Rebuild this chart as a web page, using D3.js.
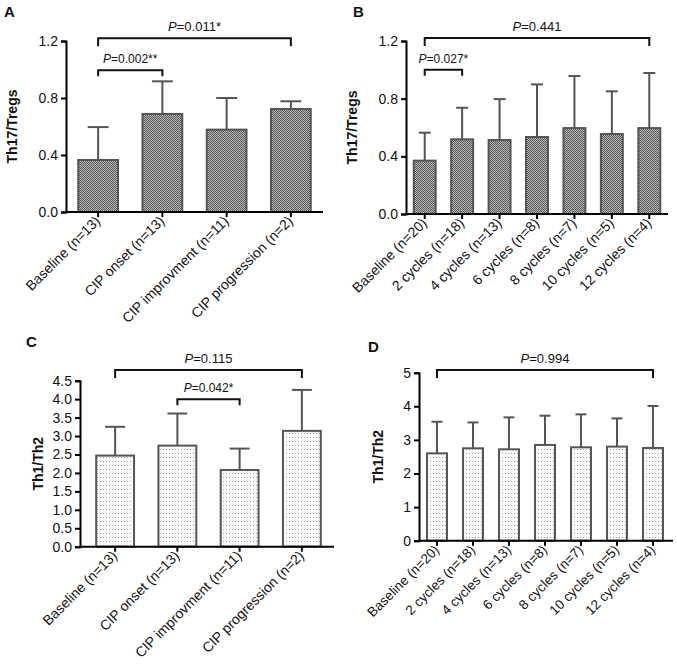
<!DOCTYPE html>
<html>
<head>
<meta charset="utf-8">
<script src="https://cdn.jsdelivr.net/npm/d3@7"></script>
<style>
  html, body { margin: 0; padding: 0; background: #fff; }
  svg { display: block; font-family: "Liberation Sans", Arial, sans-serif; }
</style>
</head>
<body>
<svg id="chart" width="677" height="667"></svg>
<script>
// ---------- DATA ----------
const categoriesA = ["Baseline (n=13)", "CIP onset (n=13)", "CIP improvment (n=11)", "CIP progression (n=2)"];
const meanA = [0.365, 0.688, 0.578, 0.723];
const sdA = [0.231, 0.229, 0.222, 0.054];
const ticksA = [0, 0.4, 0.8, 1.2];
const bracketsA = [
  { from: 0, to: 3, label: "0.011*", level: 1.22, big: true },
  { from: 0, to: 1, label: "0.002**", level: 0.995, big: false }
];

const categoriesB = ["Baseline (n=20)", "2 cycles (n=18)", "4 cycles (n=13)", "6 cycles (n=8)", "8 cycles (n=7)", "10 cycles (n=5)", "12 cycles (n=4)"];
const meanB = [0.37, 0.518, 0.513, 0.534, 0.596, 0.555, 0.596];
const sdB = [0.194, 0.219, 0.284, 0.365, 0.361, 0.296, 0.382];
const ticksB = [0, 0.4, 0.8, 1.2];
const bracketsB = [
  { from: 0, to: 6, label: "0.441", level: 1.22, big: true },
  { from: 0, to: 1, label: "0.027*", level: 1.0, big: false }
];

const categoriesC = ["Baseline (n=13)", "CIP onset (n=13)", "CIP improvment (n=11)", "CIP progression (n=2)"];
const meanC = [2.47, 2.74, 2.08, 3.14];
const sdC = [0.78, 0.87, 0.58, 1.11];
const ticksC = [0, 0.5, 1.0, 1.5, 2.0, 2.5, 3.0, 3.5, 4.0, 4.5];
const bracketsC = [
  { from: 0, to: 3, label: "0.115", level: 4.79, big: true },
  { from: 1, to: 2, label: "0.042*", level: 4.0, big: false }
];

const categoriesD = ["Baseline (n=20)", "2 cycles (n=18)", "4 cycles (n=13)", "6 cycles (n=8)", "8 cycles (n=7)", "10 cycles (n=5)", "12 cycles (n=4)"];
const meanD = [2.60, 2.75, 2.72, 2.85, 2.78, 2.80, 2.76];
const sdD = [0.94, 0.77, 0.95, 0.87, 0.98, 0.84, 1.25];
const ticksD = [0, 1, 2, 3, 4, 5];
const bracketsD = [
  { from: 0, to: 6, label: "0.994", level: 5.08, big: true }
];

// ---------- DRAW ----------
const svg = d3.select("#chart");
const defs = svg.append("defs");

// dense checker (panels A, B)
const pChk = defs.append("pattern").attr("id", "checker")
  .attr("patternUnits", "userSpaceOnUse").attr("width", 2).attr("height", 2);
pChk.append("rect").attr("width", 2).attr("height", 2).attr("fill", "#b8b8b8");
pChk.append("rect").attr("width", 1).attr("height", 1).attr("fill", "#585858");
pChk.append("rect").attr("x", 1).attr("y", 1).attr("width", 1).attr("height", 1).attr("fill", "#585858");

// light dots (panels C, D)
const pDot = defs.append("pattern").attr("id", "dots")
  .attr("patternUnits", "userSpaceOnUse").attr("width", 3).attr("height", 4);
pDot.append("rect").attr("width", 3).attr("height", 4).attr("fill", "#fbfbfb");
pDot.append("rect").attr("x", 1).attr("y", 1).attr("width", 1).attr("height", 1).attr("fill", "#a8a8a8");

function drawPanel(cfg) {
  const g = svg.append("g");
  const x = d3.scaleBand().domain(cfg.cats).range([cfg.bandL, cfg.bandR])
    .paddingInner(cfg.pad).paddingOuter(cfg.pad / 2);
  const y = d3.scaleLinear().domain([0, cfg.ymax]).range([cfg.y0, cfg.y1]);
  const data = cfg.cats.map((c, i) => ({ c, m: cfg.mean[i], s: cfg.sd[i] }));

  // error bars (upper only)
  const eb = g.append("g").attr("stroke", "#555").attr("stroke-width", 2);
  data.forEach(d => {
    const cx = x(d.c) + x.bandwidth() / 2;
    eb.append("line").attr("x1", cx).attr("x2", cx).attr("y1", y(d.m)).attr("y2", y(d.m + d.s));
    eb.append("line").attr("x1", cx - x.bandwidth() / 4).attr("x2", cx + x.bandwidth() / 4)
      .attr("y1", y(d.m + d.s)).attr("y2", y(d.m + d.s));
  });

  // bars
  g.append("g").selectAll("rect").data(data).join("rect")
    .attr("x", d => x(d.c) + 1)
    .attr("width", x.bandwidth() - 2)
    .attr("y", d => y(d.m))
    .attr("height", d => y(0) - y(d.m))
    .attr("fill", cfg.fill)
    .attr("stroke", "#555")
    .attr("stroke-width", 2);

  // y axis
  const ya = g.append("g").attr("transform", `translate(${cfg.axisX},0)`)
    .call(d3.axisLeft(y).tickValues(cfg.ticks).tickFormat(cfg.fmt).tickSizeOuter(0).tickSize(5).tickPadding(3));
  ya.select(".domain").attr("stroke", "#000").attr("stroke-width", 2);
  ya.selectAll(".tick line").attr("stroke", "#000").attr("stroke-width", 2);
  ya.selectAll(".tick text").attr("font-size", 14).attr("fill", "#111")
    .attr("font-family", "Liberation Sans, Arial, sans-serif");

  // x axis line
  g.append("line").attr("x1", cfg.axisX - 1).attr("x2", cfg.axisR)
    .attr("y1", y(0)).attr("y2", y(0)).attr("stroke", "#000").attr("stroke-width", 2);
  // x ticks and labels
  data.forEach(d => {
    const cx = x(d.c) + x.bandwidth() / 2;
    g.append("line").attr("x1", cx).attr("x2", cx).attr("y1", y(0)).attr("y2", y(0) + 5)
      .attr("stroke", "#000").attr("stroke-width", 2);
    g.append("text").attr("transform", `translate(${cx + 3},${y(0) + 10}) rotate(-45)`)
      .attr("text-anchor", "end").attr("font-size", cfg.xfs).attr("fill", "#111")
      .text(d.c);
  });

  // y title
  g.append("text").attr("transform", `translate(${cfg.titleX},${(cfg.y0 + cfg.y1) / 2}) rotate(-90)`)
    .attr("text-anchor", "middle").attr("font-size", 14).attr("font-weight", "bold")
    .attr("fill", "#111").text(cfg.title);

  // panel letter
  g.append("text").attr("x", cfg.letterX).attr("y", cfg.letterY)
    .attr("font-size", 15).attr("font-weight", "bold").attr("fill", "#111").text(cfg.letter);

  // significance brackets
  cfg.brackets.forEach(b => {
    const xa = x(cfg.cats[b.from]) + x.bandwidth() / 2;
    const xb = x(cfg.cats[b.to]) + x.bandwidth() / 2;
    const yy = y(b.level);
    const leg = b.big ? 8 : 6;
    g.append("path").attr("d", `M${xa},${yy + leg}V${yy}H${xb}V${yy + leg}`)
      .attr("fill", "none").attr("stroke", "#111").attr("stroke-width", 2);
    const t = g.append("text").attr("x", (xa + xb) / 2).attr("y", yy - 7)
      .attr("text-anchor", "middle").attr("font-size", b.big ? 13 : 12).attr("fill", "#111");
    t.append("tspan").attr("font-style", "italic").text("P");
    t.append("tspan").text("=" + b.label);
  });
}

drawPanel({ letter: "A", letterX: 4, letterY: 17, title: "Th17/Tregs", titleX: 17,
  cats: categoriesA, mean: meanA, sd: sdA, ticks: ticksA, fmt: d3.format(".1f"), brackets: bracketsA,
  bandL: 66, bandR: 323, pad: 0.35, axisX: 66, axisR: 323, ymax: 1.2, y0: 212, y1: 41,
  fill: "url(#checker)", xfs: 14 });

drawPanel({ letter: "B", letterX: 353, letterY: 17, title: "Th17/Tregs", titleX: 357,
  cats: categoriesB, mean: meanB, sd: sdB, ticks: ticksB, fmt: d3.format(".1f"), brackets: bracketsB,
  bandL: 406, bandR: 668, pad: 0.36, axisX: 406, axisR: 668, ymax: 1.2, y0: 214, y1: 41,
  fill: "url(#checker)", xfs: 14 });

drawPanel({ letter: "C", letterX: 26, letterY: 347, title: "Th1/Th2", titleX: 43,
  cats: categoriesC, mean: meanC, sd: sdC, ticks: ticksC, fmt: d3.format(".1f"), brackets: bracketsC,
  bandL: 84, bandR: 333, pad: 0.36, axisX: 80, axisR: 334, ymax: 4.5, y0: 546.7, y1: 380.7,
  fill: "url(#dots)", xfs: 14 });

drawPanel({ letter: "D", letterX: 368, letterY: 352, title: "Th1/Th2", titleX: 383,
  cats: categoriesD, mean: meanD, sd: sdD, ticks: ticksD, fmt: d3.format("d"), brackets: bracketsD,
  bandL: 419, bandR: 671, pad: 0.39, axisX: 419, axisR: 673, ymax: 5, y0: 540.7, y1: 372.7,
  fill: "url(#dots)", xfs: 13.5 });
</script>
</body>
</html>
